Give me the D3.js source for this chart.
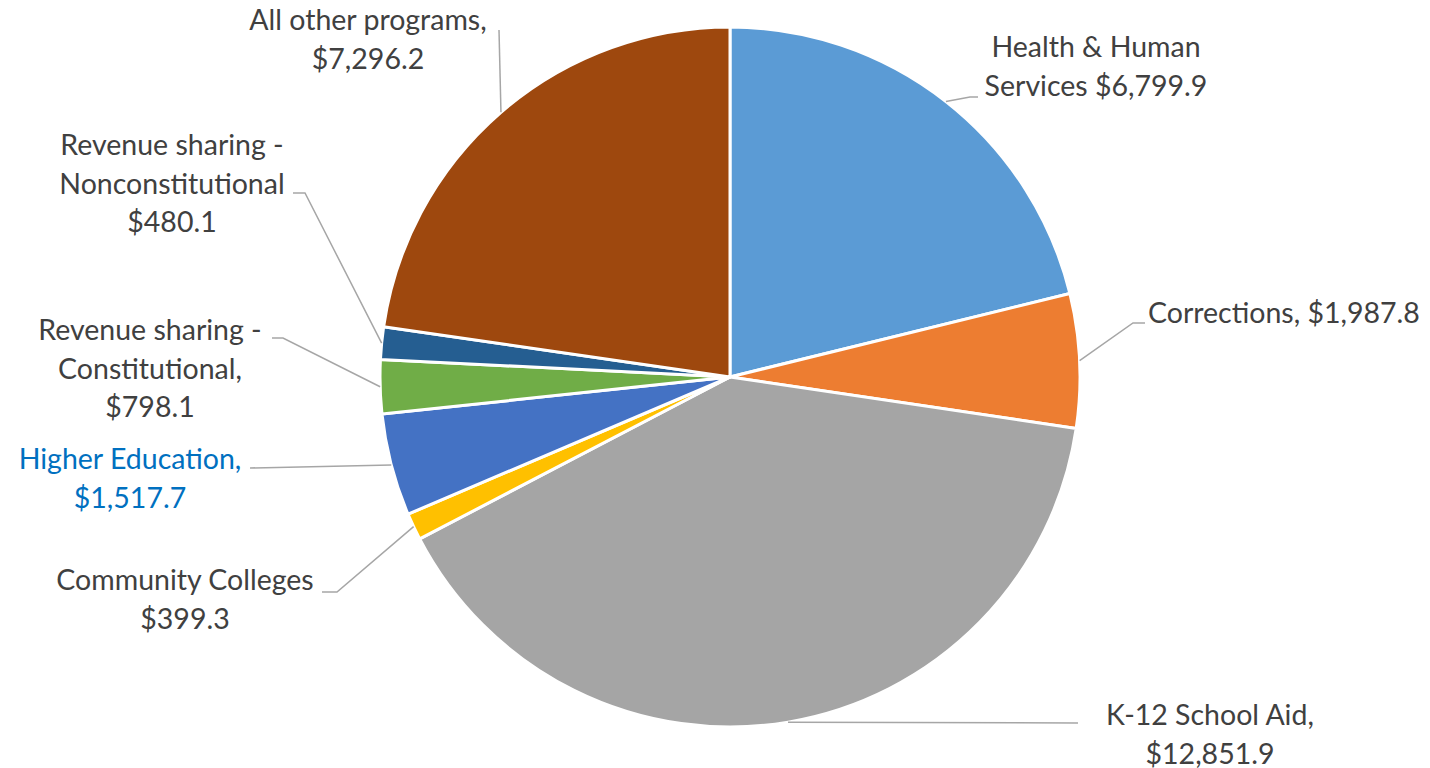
<!DOCTYPE html>
<html><head><meta charset="utf-8">
<script src="https://cdn.jsdelivr.net/npm/d3@7"></script>
<style>
html,body{margin:0;padding:0;background:#fff;}
svg{display:block;}
text{font-family:Lato,"Open Sans",sans-serif;}
</style></head>
<body>
<svg id="chart" width="1430" height="768"></svg>
<script>
// ---- data ----
const categories = ["Health & Human Services","Corrections","K-12 School Aid","Community Colleges","Higher Education","Revenue sharing - Constitutional","Revenue sharing - Nonconstitutional","All other programs"];
const values = [6799.9, 1987.8, 12851.9, 399.3, 1517.7, 798.1, 480.1, 7296.2];
const labelLines = [
  ["Health & Human","Services $6,799.9"],
  ["Corrections, $1,987.8"],
  ["K-12 School Aid,","$12,851.9"],
  ["Community Colleges","$399.3"],
  ["Higher Education,","$1,517.7"],
  ["Revenue sharing -","Constitutional,","$798.1"],
  ["Revenue sharing -","Nonconstitutional","$480.1"],
  ["All other programs,","$7,296.2"]
];
const colors = ["#5B9BD5","#ED7D31","#A5A5A5","#FFC000","#4472C4","#70AD47","#255E91","#9E480E"];

// ---- layout (label placement, offsets from pie centre) ----
const cx = 730, cy = 377, R = 350;
const labelLayout = [
  {x:366, y:-320, anchor:"middle", color:"#404040", leader:[[240,-280],[248,-280]]},
  {x:418, y:-54, anchor:"start", color:"#404040", leader:[[403,-54],[415,-54]]},
  {x:480, y:348, anchor:"middle", color:"#404040", leader:[[348,346]]},
  {x:-545, y:213, anchor:"middle", color:"#404040", leader:[[-393,215],[-408,215]]},
  {x:-600, y:92, anchor:"middle", color:"#0070C0", leader:[[-480,91]]},
  {x:-580, y:-37, anchor:"middle", color:"#404040", leader:[[-447,-39],[-458,-39]]},
  {x:-558, y:-222, anchor:"middle", color:"#404040", leader:[[-425,-184],[-437,-184]]},
  {x:-362, y:-347, anchor:"middle", color:"#404040", leader:[[-231,-347]]}
];
const lineH = 38.5;

const svg = d3.select("#chart");
const g = svg.append("g").attr("transform", `translate(${cx},${cy})`);

const pie = d3.pie().sort(null).value(d => d);
const arcs = pie(values);
const arc = d3.arc().innerRadius(0).outerRadius(R);

g.selectAll("path.slice").data(arcs).join("path")
  .attr("class","slice")
  .attr("d", arc)
  .attr("fill", (d,i) => colors[i])
  .attr("stroke", "#fff")
  .attr("stroke-width", 3)
  .attr("stroke-linejoin","round");

// leader lines
const line = d3.line();
g.selectAll("path.leader").data(arcs).join("path")
  .attr("class","leader")
  .attr("d", (d,i) => {
    const a = (d.startAngle + d.endAngle)/2;
    const p0 = [R*Math.sin(a), -R*Math.cos(a)];
    return line([p0, ...labelLayout[i].leader]);
  })
  .attr("fill","none")
  .attr("stroke","#A6A6A6")
  .attr("stroke-width",1.5);

// labels
arcs.forEach((d,i) => {
  const L = labelLayout[i];
  const t = g.append("text")
    .attr("x", L.x).attr("y", L.y)
    .attr("text-anchor", L.anchor)
    .attr("fill", L.color)
    .attr("font-size", 28.5);
  labelLines[i].forEach((s,k) => {
    t.append("tspan").attr("x", L.x).attr("y", L.y + k*lineH).text(s);
  });
});
</script>
</body></html>
